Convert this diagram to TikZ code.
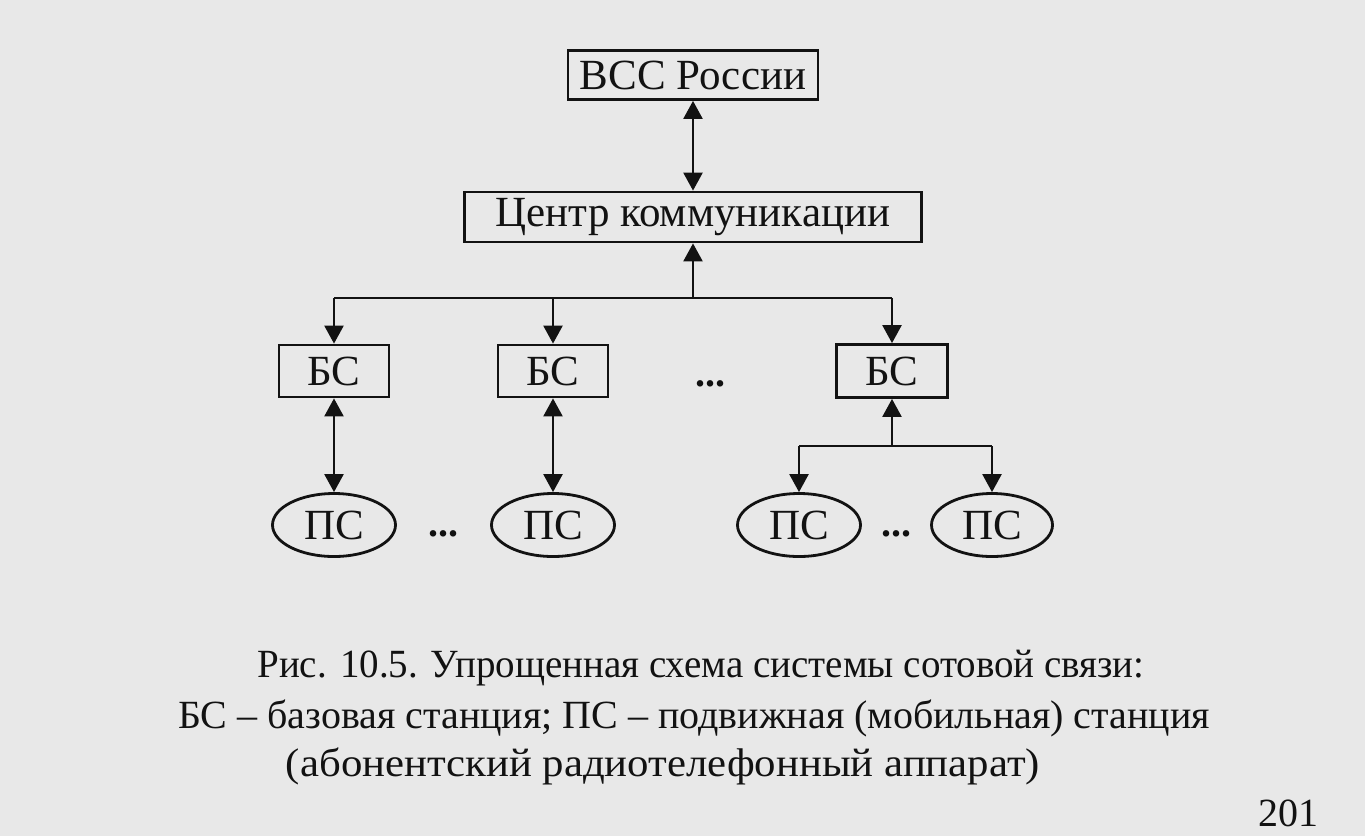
\documentclass[tikz,border=0pt]{standalone}
\usepackage{fontspec}
\setmainfont{Liberation Serif}
\newfontfamily\capfont{Liberation Serif}
\usetikzlibrary{arrows.meta,shapes.geometric}
\definecolor{paper}{gray}{0.91}
\definecolor{ink}{gray}{0.07}
\tikzset{
  lbl/.style={text=ink, font=\fontsize{43}{43}\selectfont},
  box/.style={lbl, draw=ink, line width=2.8pt, fill=paper, inner sep=0pt},
  ps/.style={lbl, ellipse, draw=ink, line width=2.8pt, fill=paper, inner sep=0pt, minimum width=123pt, minimum height=63pt},
  conn/.style={draw=ink, line width=2.4pt},
  tip/.style={-{Triangle[length=18pt,width=19pt]}},
  both/.style={{Triangle[length=18pt,width=19pt]}-{Triangle[length=18pt,width=19pt]}},
  dots/.style={text=ink, font=\bfseries\fontsize{40}{40}\selectfont, anchor=base, inner sep=0pt},
  captext/.style={text=ink, font=\capfont\fontsize{40}{40}\selectfont, inner sep=0pt},
}
\begin{document}
\begin{tikzpicture}[x=1pt,y=-1pt]
\fill[paper] (0,0) rectangle (1365,836);
\useasboundingbox (0,0) rectangle (1365,836);
% nodes
\node[box, minimum width=250pt, minimum height=49pt] (vss) at (693,75) {ВСС России};
\node[box, minimum width=457pt, minimum height=50pt] (cc) at (693,217) {Центр коммуникации};
\node[box, minimum width=110pt, minimum height=52pt] (bs1) at (334,371) {БС};
\node[box, minimum width=110pt, minimum height=52pt] (bs2) at (553,371) {БС};
\node[box, minimum width=111pt, minimum height=53pt] (bs3) at (892,371) {БС};
\node[dots] (d1) at (710,386) {...};
\node[ps] (ps1) at (334,525) {ПС};
\node[ps] (ps2) at (553,525) {ПС};
\node[ps] (ps3) at (799,525) {ПС};
\node[ps, minimum width=121pt] (ps4) at (992,525) {ПС};
\node[dots] (d2) at (443,536) {...};
\node[dots] (d3) at (896,536) {...};
% connectors
\draw[conn, both] (vss.south) -- (cc.north);
\coordinate (bus) at (693,298);
\coordinate (busL) at (334,298);
\coordinate (busM) at (553,298);
\coordinate (busR) at (892,298);
\draw[conn, tip] (bus) -- (cc.south);
\draw[conn] (busL) -- (busR);
\draw[conn, tip] (busL) -- (bs1.north);
\draw[conn, tip] (busM) -- (bs2.north);
\draw[conn, tip] (busR) -- (bs3.north);
\draw[conn, both] (bs1.south) -- (ps1.north);
\draw[conn, both] (bs2.south) -- (ps2.north);
\coordinate (j3) at (892,446);
\coordinate (j3L) at (799,446);
\coordinate (j3R) at (992,446);
\draw[conn, tip] (j3) -- (bs3.south);
\draw[conn] (j3L) -- (j3R);
\draw[conn, tip] (j3L) -- (ps3.north);
\draw[conn, tip] (j3R) -- (ps4.north);
% caption
\node[captext] (c1) at (701,668) {\scalebox{0.975}[1]{Рис. 10.5. Упрощенная схема системы сотовой связи:}};
\node[captext] (c2) at (694,718) {\scalebox{1.0}[1]{БС – базовая станция; ПС – подвижная (мобильная) станция}};
\node[captext] (c3) at (663,766) {\scalebox{1.07}[1]{(абонентский радиотелефонный аппарат)}};
\node[text=ink, font=\fontsize{40}{40}\selectfont, anchor=base, inner sep=0pt] (pg) at (1288,826) {201};
\end{tikzpicture}
\end{document}
